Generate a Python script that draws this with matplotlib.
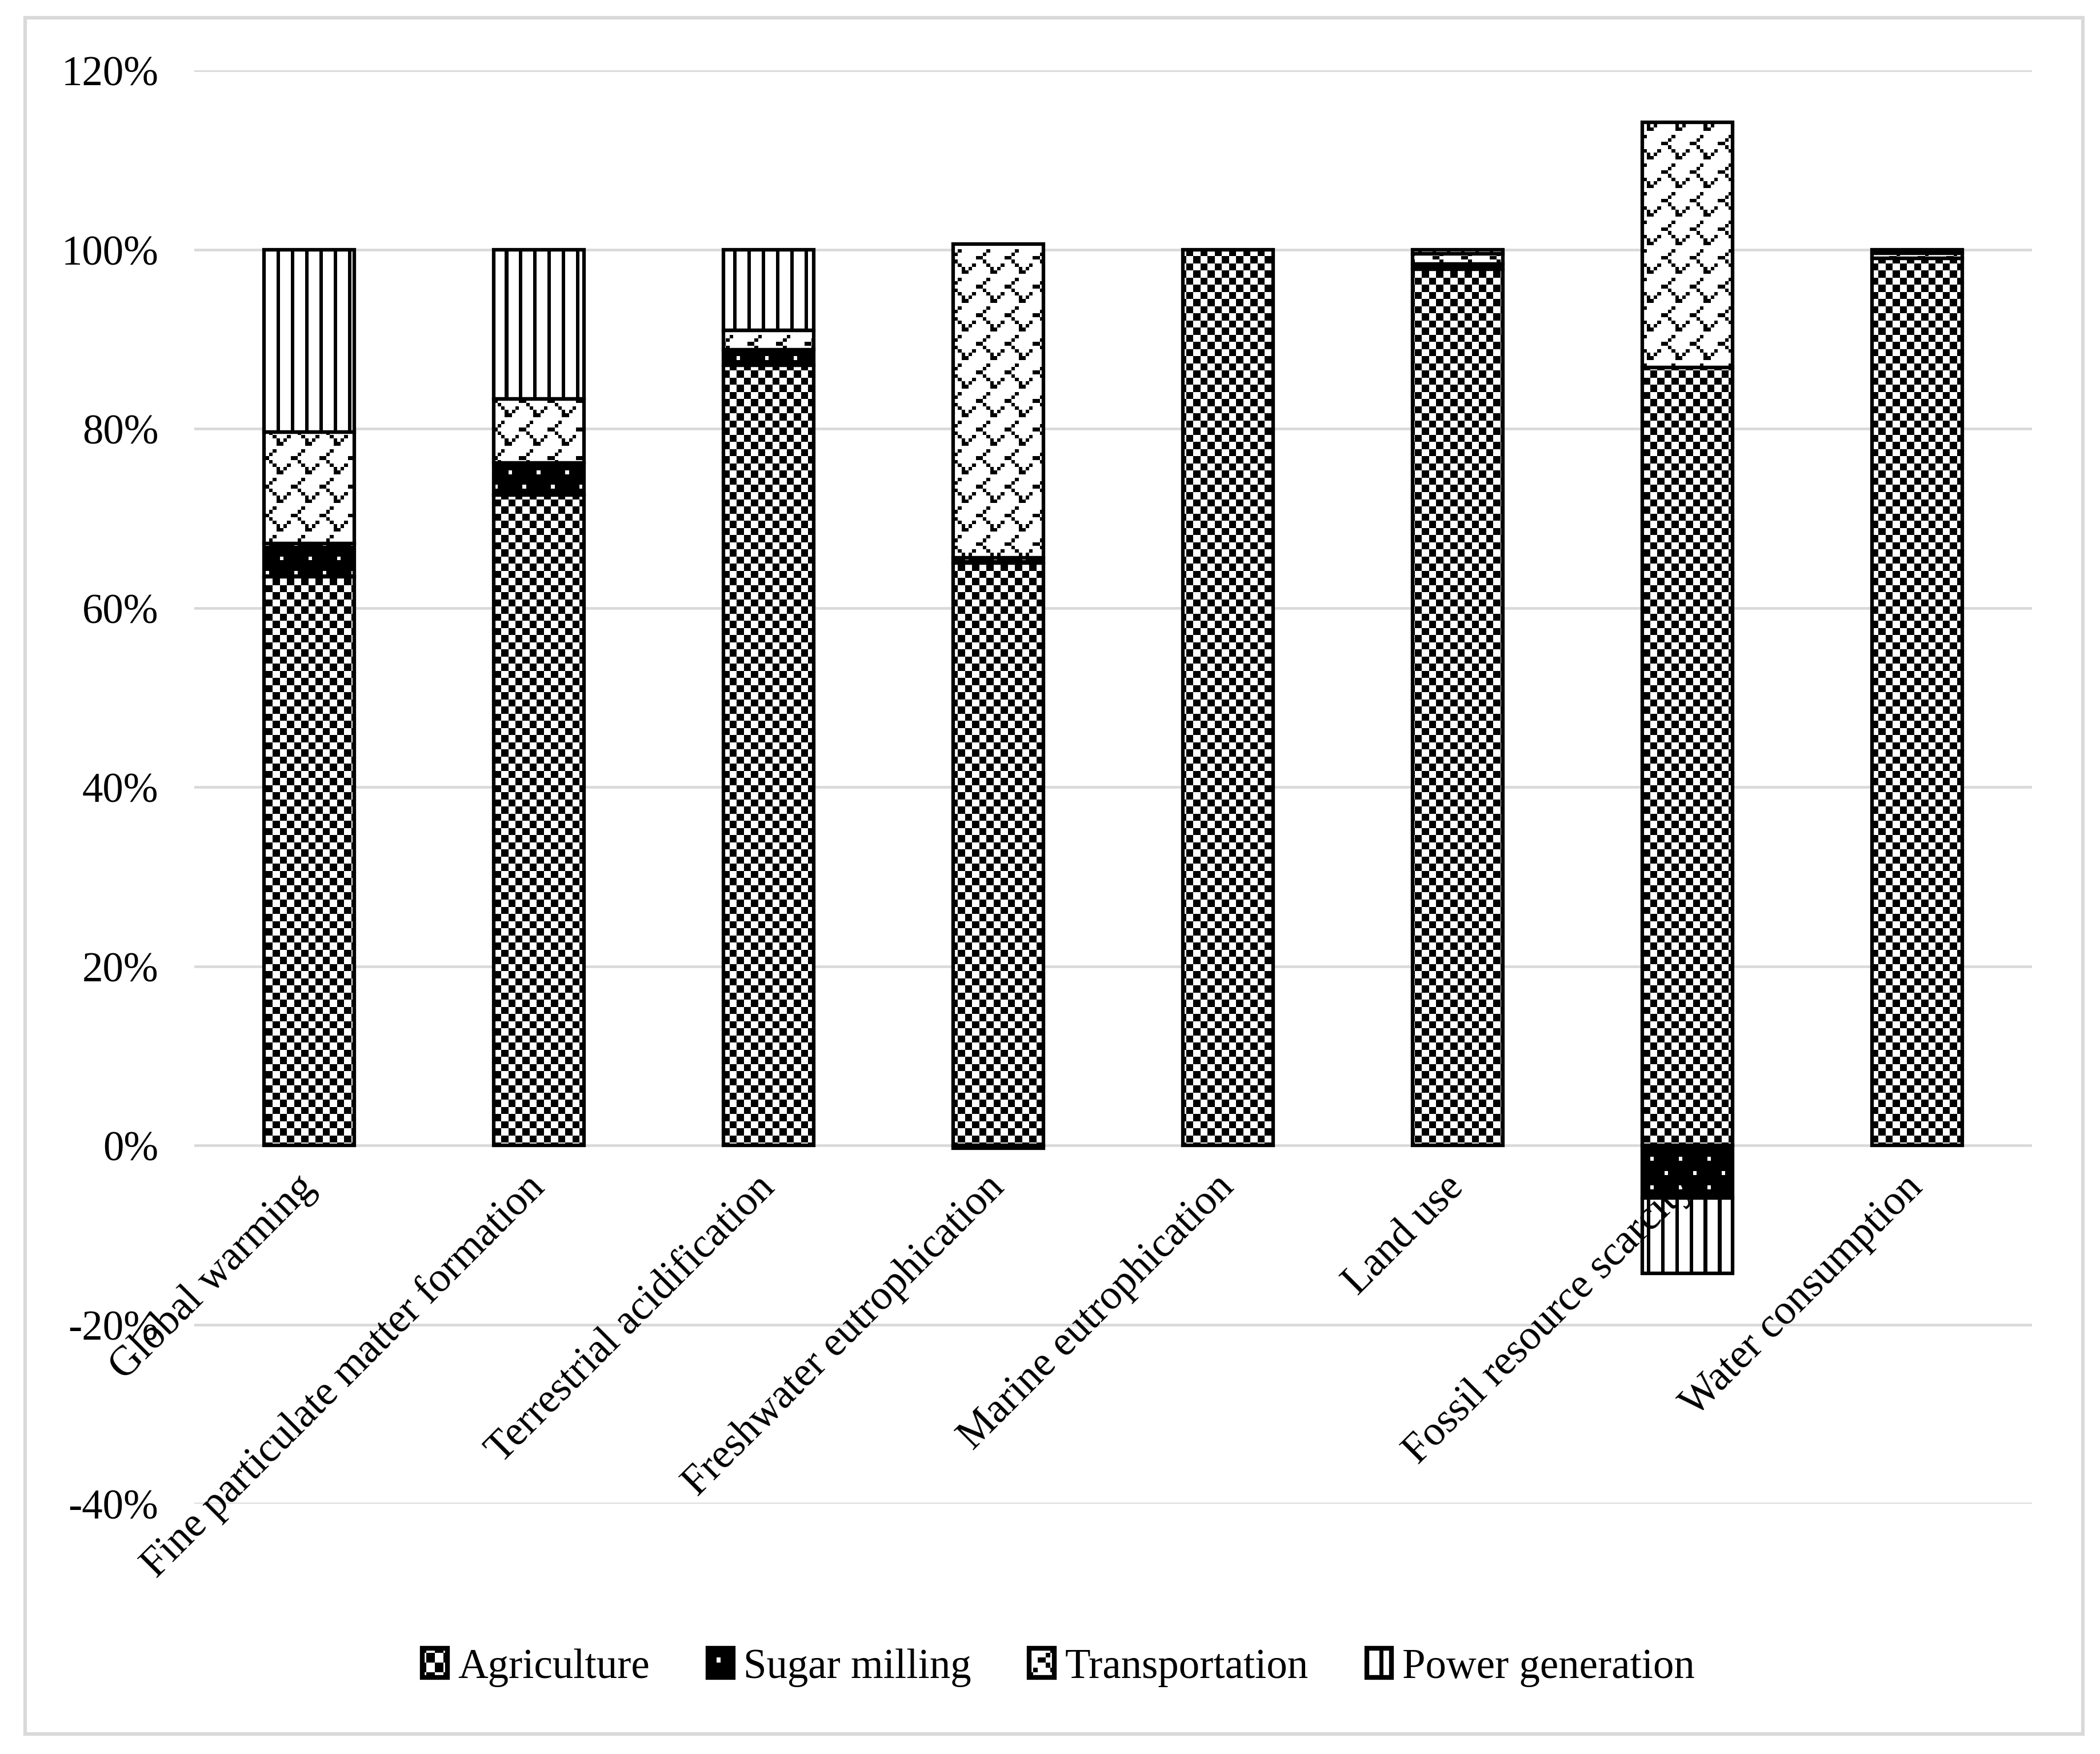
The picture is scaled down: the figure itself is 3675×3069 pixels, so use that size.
import numpy as np
import matplotlib
matplotlib.use('Agg')
import matplotlib.pyplot as plt
from matplotlib.patches import Rectangle
from matplotlib.path import Path
from matplotlib.colors import Normalize
from matplotlib.image import BboxImage
from matplotlib.transforms import Bbox, TransformedBbox
from matplotlib.legend_handler import HandlerBase
from matplotlib.ticker import PercentFormatter

plt.rcParams['font.family'] = ['Liberation Serif', 'DejaVu Serif']
plt.rcParams['axes.unicode_minus'] = False

# Data (percent contribution)
categories = ['Global warming', 'Fine particulate matter formation', 'Terrestrial acidification',
              'Freshwater eutrophication', 'Marine eutrophication', 'Land use',
              'Fossil resource scarcity', 'Water consumption']
agriculture = [63.5, 72.6, 87.1, 65.0, 100.0, 97.8, 86.8, 99.0]
sugar_milling = [3.7, 3.6, 1.7, 0.6, 0.0, 0.6, -5.9, 0.0]
transportation = [12.4, 7.1, 2.2, 35.0, 0.0, 1.1, 27.4, 0.6]
power_generation = [20.4, 16.7, 9.0, -0.3, 0.0, 0.5, -8.4, 0.4]
series_names = ['Agriculture', 'Sugar milling', 'Transportation', 'Power generation']
y_ticks = [-40, -20, 0, 20, 40, 60, 80, 100, 120]


# 8x8 pattern tiles, 'X' = black
def tile_from_text(rows):
    return np.array([[1.0 if ch == 'X' else 0.0 for ch in r] for r in rows])


checker_tile = tile_from_text(['XX..XX..', 'XX..XX..', '..XX..XX', '..XX..XX',
                               'XX..XX..', 'XX..XX..', '..XX..XX', '..XX..XX'])
dots_tile = tile_from_text(['.XXXXXXX', 'XXXXXXXX', 'XXXXXXXX', 'XXXXXXXX',
                            'XXXX.XXX', 'XXXXXXXX', 'XXXXXXXX', 'XXXXXXXX'])
shingle_tile = tile_from_text(['X......X', '........', '......X.', '.....X..',
                               '...XX...', '.....X..', '..X...X.', '.X.....X'])
vertical_tile = tile_from_text(['...X...X'] * 8)
tiles = [checker_tile, dots_tile, shingle_tile, vertical_tile]
# part of each tile shown inside the small legend keys (row, col offsets)
legend_offsets = [(1, 1), (2, 2), (2, 1), (0, 0)]

W, H, DPI = 3675, 3070, 300
UNIT = 6.25  # pixel size of one pattern cell

fig = plt.figure(figsize=(W / DPI, H / DPI), dpi=DPI)
ax = fig.add_axes([340 / W, 1 - 2632 / H, (3556 - 340) / W, (2632 - 124) / H])

x = np.arange(len(categories))
xlim = (-0.5, len(categories) - 0.5)
ylim = (-40, 120)
ax.set_xlim(*xlim)
ax.set_ylim(*ylim)

# outer chart border
fig.patches.append(Rectangle((44 / W, 1 - 3035 / H), (3645 - 44) / W, (3035 - 32) / H,
                             transform=fig.transFigure, facecolor='none',
                             edgecolor='#d9d9d9', linewidth=1.5))

ax_w_px = (3556 - 340)
ax_h_px = (2632 - 124)
ncols = int(round(ax_w_px / UNIT))
nrows = int(round(ax_h_px / UNIT))

series = [agriculture, sugar_milling, transportation, power_generation]
pos_bottom = np.zeros(len(categories))
neg_bottom = np.zeros(len(categories))
for vals, tile in zip(series, tiles):
    vals = np.array(vals)
    bottoms = np.where(vals >= 0, pos_bottom, neg_bottom)
    bars = ax.bar(x, vals, width=0.395, bottom=bottoms, facecolor='none',
                  edgecolor='black', linewidth=1.5, zorder=3)
    pos_bottom += np.where(vals > 0, vals, 0)
    neg_bottom += np.where(vals < 0, vals, 0)
    paths = []
    for rect, v in zip(bars, vals):
        if v == 0:
            rect.set_visible(False)
            continue
        paths.append(rect.get_path().transformed(rect.get_patch_transform()))
    pattern = np.tile(tile, (nrows // 8 + 1, ncols // 8 + 1))[:nrows, :ncols]
    im = ax.imshow(pattern, extent=(xlim[0], xlim[1], ylim[0], ylim[1]), aspect='auto',
                   cmap='gray_r', norm=Normalize(0, 1), interpolation='nearest', zorder=2)
    im.set_clip_path(Path.make_compound_path(*paths), ax.transData)

ax.set_xlim(*xlim)
ax.set_ylim(*ylim)

# axes styling
ax.set_yticks(y_ticks)
ax.yaxis.set_major_formatter(PercentFormatter(decimals=0))
ax.grid(axis='y', color='#d9d9d9', linewidth=1.1, zorder=0)
ax.set_axisbelow(True)
ax.xaxis.set_zorder(5)  # category labels sit on top of the bars
for s in ['top', 'right', 'left']:
    ax.spines[s].set_visible(False)
ax.spines['bottom'].set_position(('data', 0))
ax.spines['bottom'].set_visible(False)
ax.tick_params(axis='y', length=0, pad=15, labelsize=17.5)
ax.tick_params(axis='x', length=0, pad=15, labelsize=17.5)
ax.set_xticks(x)
ax.set_xticklabels(categories, rotation=45, ha='right', va='center', rotation_mode='anchor')


class PatternHandler(HandlerBase):
    def __init__(self, tile, offset):
        super().__init__()
        r, c = offset
        self.key = np.tile(tile, (2, 2))[r:r + 6, c:c + 6]

    def create_artists(self, legend, orig_handle, xdescent, ydescent, width, height, fontsize, trans):
        x0, y0 = -xdescent, -ydescent
        bb = TransformedBbox(Bbox.from_bounds(x0, y0, width, height), trans)
        img = BboxImage(bb, cmap='gray_r', norm=Normalize(0, 1), interpolation='nearest')
        img.set_data(self.key)
        rect = Rectangle((x0, y0), width, height, facecolor='none', edgecolor='black',
                         linewidth=2.0, transform=trans)
        return [img, rect]


handles = [Rectangle((0, 0), 1, 1) for _ in series_names]
hmap = {h: PatternHandler(t, o) for h, t, o in zip(handles, tiles, legend_offsets)}
fig.legend(handles, series_names, handler_map=hmap, loc='center',
           bbox_to_anchor=(0.504, 1 - 2918 / H), ncol=4, frameon=False, fontsize=17.5,
           handlelength=0.6, handleheight=0.7, handletextpad=0.25, columnspacing=1.4)

fig.savefig('out.png', dpi=DPI, facecolor='white')
